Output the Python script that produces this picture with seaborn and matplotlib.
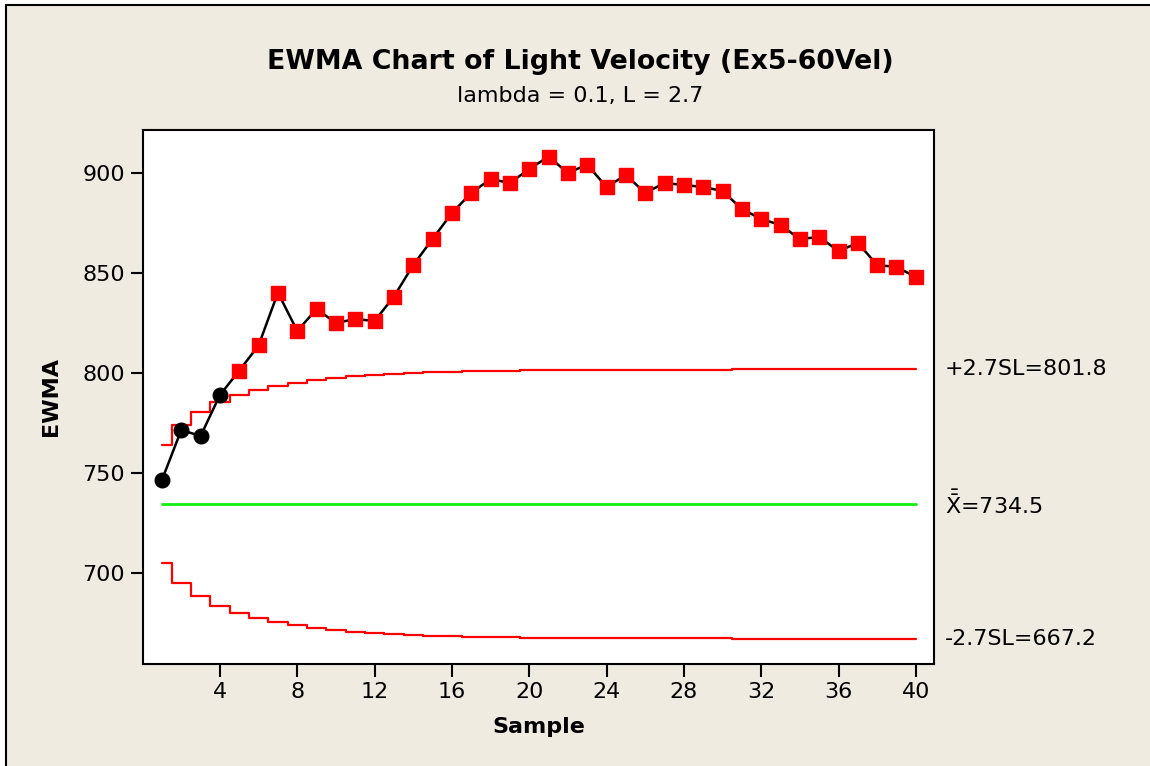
import matplotlib
matplotlib.use("Agg")
import matplotlib.pyplot as plt
import seaborn as sns
import pandas as pd
from matplotlib.patches import Rectangle

# ---------------- data ----------------
samples = list(range(1, 41))
ewma = [746.5, 771.5, 768.5, 789.0, 801.2, 813.8, 840.2, 821.0, 832.0, 825.0,
        827.0, 826.0, 838.2, 854.0, 867.0, 880.0, 890.0, 897.0, 895.0, 902.0,
        908.2, 900.0, 904.2, 893.0, 899.0, 890.0, 895.0, 894.0, 893.0, 891.0,
        882.0, 877.0, 874.0, 867.0, 868.0, 861.0, 865.0, 854.0, 853.0, 848.0]
in_control = [True, True, True, True] + [False] * 36
ucl = [763.8, 774.0, 780.6, 785.3, 788.8, 791.5, 793.6, 795.2, 796.5, 797.6,
       798.4, 799.1, 799.6, 800.0, 800.4, 800.6, 800.9, 801.0, 801.2, 801.3,
       801.4, 801.5, 801.5, 801.6, 801.6, 801.7, 801.7, 801.7, 801.7, 801.7,
       801.8, 801.8, 801.8, 801.8, 801.8, 801.8, 801.8, 801.8, 801.8, 801.8]
lcl = [705.2, 695.0, 688.4, 683.7, 680.2, 677.5, 675.4, 673.8, 672.5, 671.4,
       670.6, 669.9, 669.4, 669.0, 668.6, 668.4, 668.1, 668.0, 667.8, 667.7,
       667.6, 667.5, 667.5, 667.4, 667.4, 667.3, 667.3, 667.3, 667.3, 667.3,
       667.2, 667.2, 667.2, 667.2, 667.2, 667.2, 667.2, 667.2, 667.2, 667.2]
center = 734.5
ucl_label = "+2.7SL=801.8"
center_label = r"$\bar{\bar{\mathrm{X}}}$=734.5"
lcl_label = "-2.7SL=667.2"
title = "EWMA Chart of Light Velocity (Ex5-60Vel)"
subtitle = "lambda = 0.1, L = 2.7"
x_ticks = [4, 8, 12, 16, 20, 24, 28, 32, 36, 40]
y_ticks = [700, 750, 800, 850, 900]

df = pd.DataFrame({"Sample": samples, "EWMA": ewma, "UCL": ucl, "LCL": lcl,
                   "Center": [center] * len(samples), "ok": in_control})

# ---------------- style ----------------
sns.set_style("white")
FAM = ["DejaVu Sans"]
plt.rcParams["font.family"] = FAM
plt.rcParams["text.color"] = "black"
plt.rcParams["axes.labelcolor"] = "black"
plt.rcParams["mathtext.fontset"] = "dejavusans"
BG = "#EFEBE1"

fig = plt.figure(figsize=(11.5, 7.66), dpi=100, facecolor="white")
fig.patches.append(Rectangle((6 / 1150, -0.02), 1.05, 1.02 - 5 / 766,
                             transform=fig.transFigure, facecolor=BG,
                             edgecolor="black", linewidth=1.5, zorder=-10))
ax = fig.add_axes([143 / 1150, 1 - 664 / 766, (934 - 143) / 1150, (664 - 130) / 766])
ax.set_zorder(5)
ax.set_facecolor("white")

# limits
sns.lineplot(data=df, x="Sample", y="UCL", ax=ax, color="#FF0000", lw=1.6,
             drawstyle="steps-mid", zorder=2)
sns.lineplot(data=df, x="Sample", y="LCL", ax=ax, color="#FF0000", lw=1.6,
             drawstyle="steps-mid", zorder=2)
sns.lineplot(data=df, x="Sample", y="Center", ax=ax, color="#11EE11", lw=2.0,
             zorder=2)

# EWMA line + markers
sns.lineplot(data=df, x="Sample", y="EWMA", ax=ax, color="black", lw=1.8, zorder=3)
ok = df[df["ok"]]
bad = df[~df["ok"]]
ax.plot(ok["Sample"], ok["EWMA"], ls="none", marker="o", ms=10.5,
        color="black", zorder=4)
ax.plot(bad["Sample"], bad["EWMA"], ls="none", marker="s", ms=10,
        markerfacecolor="#FF0000", markeredgecolor="#FF0000", zorder=4)

ax.set_xlim(0.02, 40.94)
ax.set_ylim(654.5, 921.5)
ax.set_xticks(x_ticks)
ax.set_yticks(y_ticks)
ax.tick_params(axis="both", direction="out", length=9, width=1.5,
               labelsize=16, color="black", labelcolor="black", pad=4,
               left=True, bottom=True)
for s in ax.spines.values():
    s.set_color("black")
    s.set_linewidth(1.5)

ax.set_xlabel("Sample", fontsize=16, fontweight="bold", labelpad=11, color="black")
ax.set_ylabel("EWMA", fontsize=16, fontweight="bold", labelpad=15, color="black")

# right-hand limit labels
tr = ax.get_yaxis_transform()
ax.text(1.014, ucl[-1], ucl_label, transform=tr, fontsize=16, va="center", ha="left")
ax.text(1.014, center, center_label, transform=tr, fontsize=16, va="center", ha="left")
ax.text(1.014, lcl[-1], lcl_label, transform=tr, fontsize=16, va="center", ha="left")

fig.text(580 / 1150, 1 - 62 / 766, title, fontsize=19.3, fontweight="bold",
         ha="center", va="center", color="black")
fig.text(580 / 1150, 1 - 96 / 766, subtitle, fontsize=16, ha="center", va="center",
         color="black")

fig.savefig("out.png", dpi=100, facecolor=fig.get_facecolor())
